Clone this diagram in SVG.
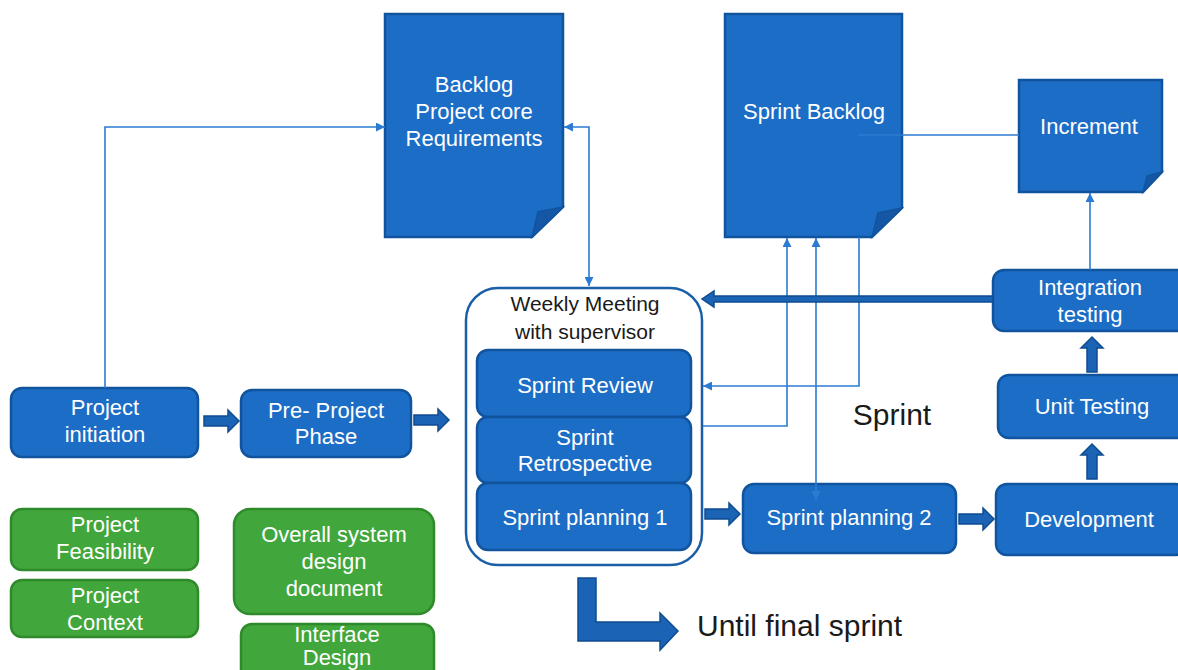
<svg xmlns="http://www.w3.org/2000/svg" width="1178" height="670" viewBox="0 0 1178 670">
<defs>
<style>
.bx{fill:#1c6dc6;stroke:#11549e;stroke-width:2.5}
.gr{fill:#41a63b;stroke:#2e8a2b;stroke-width:2.5}
.doc{fill:#1c6dc6;stroke:#11549e;stroke-width:2.5}
.fold{fill:#1557a6;stroke:#11549e;stroke-width:1.5}
.wt{fill:#fff;font-family:"Liberation Sans",Arial,sans-serif;font-size:22px;text-anchor:middle}
.bk{fill:#1a1a1a;font-family:"Liberation Sans",Arial,sans-serif;text-anchor:middle}
.ln{fill:none;stroke:#2b7bd2;stroke-width:1.6}
.ba{fill:#1a63b5;stroke:#0f4c90;stroke-width:1.5}
</style>
<marker id="ah" viewBox="0 0 10 10" refX="10" refY="5" markerWidth="9" markerHeight="9" markerUnits="userSpaceOnUse" orient="auto-start-reverse">
<path d="M0,0 L10,5 L0,10 Z" fill="#2b7bd2"/>
</marker>
<path id="barrow" d="M0,-5 H24 V-11 L35,0 L24,11 V5 H0 Z"/>
</defs>

<g id="backlog">
<path class="doc" d="M385,14 H563 V207 L532,237 H385 Z"/>
<path class="fold" d="M532,237 L538,212 L563,207 Z"/>
<text class="wt" x="474" y="92">Backlog</text>
<text class="wt" x="474" y="119">Project core</text>
<text class="wt" x="474" y="146">Requirements</text>
</g>

<g id="sprint-backlog">
<path class="doc" d="M725,14 H902 V208 L872,237 H725 Z"/>
<path class="fold" d="M872,237 L878,213 L902,208 Z"/>
<text class="wt" x="814" y="119">Sprint Backlog</text>
</g>

<g id="increment">
<path class="doc" d="M1019,80 H1162 V172 L1143,192 H1019 Z"/>
<path class="fold" d="M1143,192 L1147,176 L1162,172 Z"/>
<text class="wt" x="1089" y="134">Increment</text>
</g>

<g id="weekly-meeting">
<rect x="466" y="288" width="236" height="277" rx="32" fill="#fff" stroke="#1a5ea8" stroke-width="2.5"/>
<text class="bk" x="585" y="311" font-size="21">Weekly Meeting</text>
<text class="bk" x="585" y="339" font-size="21">with supervisor</text>
</g>

<g id="sprint-review">
<rect class="bx" x="477" y="350" width="214" height="67" rx="11"/>
<text class="wt" x="585" y="393">Sprint Review</text>
</g>

<g id="sprint-retrospective">
<rect class="bx" x="477" y="417" width="214" height="66" rx="11"/>
<text class="wt" x="585" y="445">Sprint</text>
<text class="wt" x="585" y="471">Retrospective</text>
</g>

<g id="sprint-planning-1">
<rect class="bx" x="477" y="483" width="214" height="67" rx="11"/>
<text class="wt" x="585" y="525">Sprint planning 1</text>
</g>

<g id="project-initiation">
<rect class="bx" x="11" y="388" width="187" height="69" rx="11"/>
<text class="wt" x="105" y="415">Project</text>
<text class="wt" x="105" y="442">initiation</text>
</g>

<g id="pre-project-phase">
<rect class="bx" x="241" y="390" width="170" height="67" rx="11"/>
<text class="wt" x="326" y="418">Pre- Project</text>
<text class="wt" x="326" y="444">Phase</text>
</g>

<g id="project-feasibility">
<rect class="gr" x="11" y="509" width="187" height="61" rx="11"/>
<text class="wt" x="105" y="532">Project</text>
<text class="wt" x="105" y="559">Feasibility</text>
</g>

<g id="project-context">
<rect class="gr" x="11" y="580" width="187" height="57" rx="11"/>
<text class="wt" x="105" y="603">Project</text>
<text class="wt" x="105" y="630">Context</text>
</g>

<g id="overall-design">
<rect class="gr" x="234" y="509" width="200" height="105" rx="16"/>
<text class="wt" x="334" y="542">Overall system</text>
<text class="wt" x="334" y="569">design</text>
<text class="wt" x="334" y="596">document</text>
</g>

<g id="interface-design">
<rect class="gr" x="241" y="624" width="193" height="60" rx="11"/>
<text class="wt" x="337" y="642">Interface</text>
<text class="wt" x="337" y="665">Design</text>
</g>

<g id="sprint-planning-2">
<rect class="bx" x="743" y="484" width="213" height="69" rx="11"/>
<text class="wt" x="849" y="525">Sprint planning 2</text>
</g>

<g id="development">
<rect class="bx" x="996" y="484" width="190" height="71" rx="11"/>
<text class="wt" x="1089" y="527">Development</text>
</g>

<g id="unit-testing">
<rect class="bx" x="998" y="375" width="190" height="63" rx="11"/>
<text class="wt" x="1092" y="414">Unit Testing</text>
</g>

<g id="integration-testing">
<rect class="bx" x="993" y="270" width="195" height="61" rx="11"/>
<text class="wt" x="1090" y="295">Integration</text>
<text class="wt" x="1090" y="322">testing</text>
</g>

<g id="labels">
<text class="bk" x="892" y="425" font-size="30">Sprint</text>
<text class="bk" x="697" y="636" font-size="30" style="text-anchor:start">Until final sprint</text>
</g>

<g id="connectors">
<path class="ln" d="M105,388 V127 H385" marker-end="url(#ah)"/>
<path class="ln" d="M564,127 H589 V286" marker-start="url(#ah)" marker-end="url(#ah)"/>
<path class="ln" d="M859,135 H1019"/>
<path class="ln" d="M859,237 V386 H703" marker-end="url(#ah)"/>
<path class="ln" d="M703,426 H787 V238" marker-end="url(#ah)"/>
<path class="ln" d="M816,500 V238" marker-start="url(#ah)" marker-end="url(#ah)"/>
<path class="ln" d="M1090,270 V193" marker-end="url(#ah)"/>
<use href="#barrow" class="ba" transform="translate(204,421)"/>
<use href="#barrow" class="ba" transform="translate(414,420)"/>
<use href="#barrow" class="ba" transform="translate(705,514)"/>
<use href="#barrow" class="ba" transform="translate(959,519)"/>
<use href="#barrow" class="ba" transform="translate(1092,479) rotate(-90)"/>
<use href="#barrow" class="ba" transform="translate(1092,372) rotate(-90)"/>
<path class="ba" d="M993,296 H714 V291 L702,299 L714,307 V302 H993 Z"/>
<path class="ba" d="M578,578 H596 V622 H660 V613 L678,631 L660,650 V641 H578 Z"/>
</g>
</svg>
